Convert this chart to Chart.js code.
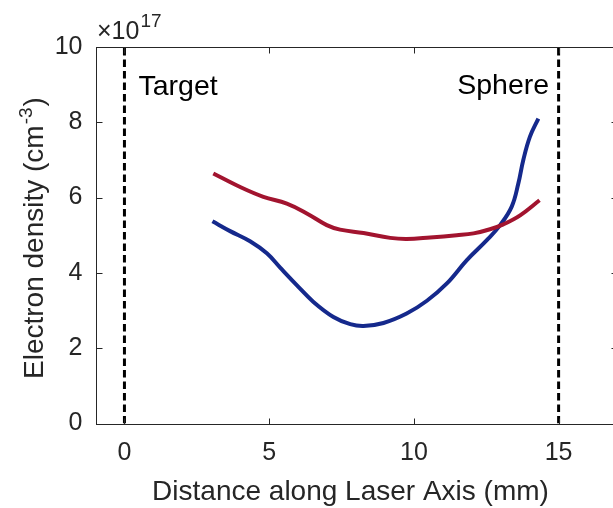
<!DOCTYPE html>
<html><head><meta charset="utf-8">
<script src="https://cdn.jsdelivr.net/npm/chart.js@4.4.1/dist/chart.umd.min.js"></script>
<style>html,body{margin:0;padding:0;overflow:hidden;background:#fff;width:613px;height:508px}canvas{display:block}</style>
</head><body><canvas id="c" width="630" height="508"></canvas>
<script>
// ---- data ----
const redX  = [3.07, 4.00, 4.80, 5.61, 6.30, 6.99, 7.45, 8.26, 9.18, 9.75, 10.56, 11.48, 12.06, 12.63, 13.09, 13.67, 14.34];
const redY  = [6.64, 6.28, 6.02, 5.84, 5.58, 5.27, 5.15, 5.06, 4.93, 4.90, 4.94, 5.00, 5.05, 5.16, 5.29, 5.53, 5.93];
const blueX = [3.04, 3.65, 4.34, 4.92, 5.38, 5.96, 6.53, 7.22, 7.80, 8.26, 8.95, 9.75, 10.45, 11.14, 11.83, 12.52, 12.98, 13.38, 13.61, 13.78, 14.01, 14.30];
const blueY = [5.37, 5.11, 4.84, 4.52, 4.14, 3.67, 3.23, 2.83, 2.64, 2.59, 2.67, 2.92, 3.26, 3.72, 4.34, 4.87, 5.27, 5.76, 6.38, 7.00, 7.62, 8.10];
const markerX = [0, 15];
const markerLabels = ['Target', 'Sphere'];
const xTicks = [0, 5, 10, 15];
const yTicks = [0, 2, 4, 6, 8, 10];
const xRange = [-1, 17];
const yRange = [0, 10];
const xTitle = 'Distance along Laser Axis (mm)';
const yTitleParts = ['Electron density (cm', '-3', ')'];
const exponentParts = ['\u00d710', '17'];

const FONT = "'Liberation Sans', Arial, Helvetica, sans-serif";
const AX = '#262626';
const RED = '#A2142F';
const BLUE = '#15298C';

const toPts = (xs, ys) => xs.map((x, i) => ({x, y: ys[i]}));

const datasets = [
  {data: toPts(redX, redY), borderColor: RED, borderWidth: 4, pointRadius: 0, showLine: true, tension: 0.4, borderCapStyle: 'butt'},
  {data: toPts(blueX, blueY), borderColor: BLUE, borderWidth: 4, pointRadius: 0, showLine: true, tension: 0.4, borderCapStyle: 'butt'}
];
markerX.forEach(mx => datasets.push({
  data: [{x: mx, y: yRange[0]}, {x: mx, y: yRange[1]}],
  borderColor: '#000', borderWidth: 3, borderDash: [7.5, 4], pointRadius: 0, showLine: true, borderCapStyle: 'butt'
}));

const decor = {
  id: 'decor',
  afterDatasetsDraw(chart) {
    const ctx = chart.ctx, a = chart.chartArea;
    const xs = chart.scales.x, ys = chart.scales.y;
    ctx.save();
    // axes box
    ctx.strokeStyle = AX; ctx.lineWidth = 1;
    const L = Math.round(a.left) + 0.5, R = Math.round(a.right) + 0.5, T = Math.round(a.top) + 0.5, B = Math.round(a.bottom) + 0.5;
    ctx.strokeRect(L, T, R - L, B - T);
    // inward ticks
    const tl = 6;
    ctx.beginPath();
    xTicks.forEach(v => {
      const p = Math.round(xs.getPixelForValue(v)) + 0.5;
      ctx.moveTo(p, B); ctx.lineTo(p, B - tl);
      ctx.moveTo(p, T); ctx.lineTo(p, T + tl);
    });
    yTicks.forEach(v => {
      const p = Math.round(ys.getPixelForValue(v)) + 0.5;
      ctx.moveTo(L, p); ctx.lineTo(L + tl, p);
      ctx.moveTo(R, p); ctx.lineTo(R - tl, p);
    });
    ctx.stroke();

    // marker labels
    ctx.fillStyle = '#000';
    ctx.font = '28.5px ' + FONT;
    ctx.textBaseline = 'alphabetic';
    ctx.textAlign = 'left';
    ctx.fillText(markerLabels[0], xs.getPixelForValue(markerX[0]) + 14, 95);
    ctx.textAlign = 'right';
    ctx.fillText(markerLabels[1], xs.getPixelForValue(markerX[1]) - 9.5, 94);

    // exponent
    ctx.fillStyle = AX;
    ctx.textAlign = 'left';
    ctx.font = '25px ' + FONT;
    ctx.fillText(exponentParts[0], 97, 39);
    const w0 = ctx.measureText(exponentParts[0]).width;
    ctx.font = '19px ' + FONT;
    ctx.fillText(exponentParts[1], 97 + w0 + 1, 27);

    // x title
    ctx.font = '28px ' + FONT;
    ctx.textAlign = 'center';
    ctx.fillText(xTitle, 350.5, 500);

    // y title (rotated, with superscript)
    ctx.translate(43, 379);
    ctx.rotate(-Math.PI / 2);
    ctx.textAlign = 'left';
    ctx.font = '28px ' + FONT;
    ctx.fillText(yTitleParts[0], 0, 0);
    let off = ctx.measureText(yTitleParts[0]).width;
    ctx.font = '19px ' + FONT;
    ctx.fillText(yTitleParts[1], off + 1, -11);
    off += ctx.measureText(yTitleParts[1]).width + 2;
    ctx.font = '28px ' + FONT;
    ctx.fillText(yTitleParts[2], off, 0);
    ctx.restore();
  }
};

new Chart(document.getElementById('c'), {
  type: 'scatter',
  data: {datasets},
  options: {
    responsive: false,
    animation: false,
    devicePixelRatio: 1,
    layout: {padding: {top: 47, right: 13.5, left: 0, bottom: 0}},
    plugins: {legend: {display: false}, tooltip: {enabled: false}},
    scales: {
      x: {
        type: 'linear', min: xRange[0], max: xRange[1],
        afterBuildTicks: s => { s.ticks = xTicks.map(v => ({value: v})); },
        afterFit: s => { s.height = 84.5; },
        grid: {display: false, drawTicks: false},
        border: {display: false},
        ticks: {color: AX, font: {family: FONT, size: 25}, padding: 15, maxRotation: 0, autoSkip: false}
      },
      y: {
        type: 'linear', min: yRange[0], max: yRange[1],
        afterBuildTicks: s => { s.ticks = yTicks.map(v => ({value: v})); },
        afterFit: s => { s.width = 95.5; },
        grid: {display: false, drawTicks: false},
        border: {display: false},
        ticks: {color: AX, font: {family: FONT, size: 25}, padding: 13, autoSkip: false}
      }
    }
  },
  plugins: [decor]
});
</script>
</body></html>
